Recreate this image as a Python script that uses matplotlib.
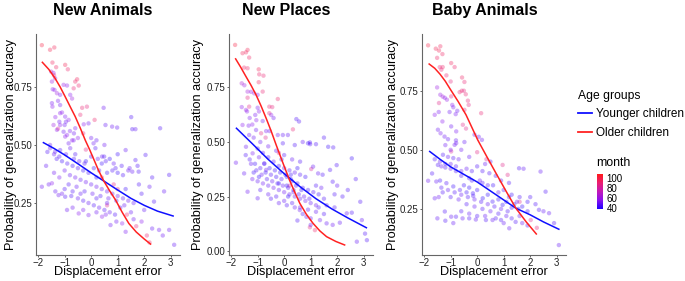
import numpy as np
import matplotlib
matplotlib.use("Agg")
import matplotlib.pyplot as plt
from matplotlib.colors import LinearSegmentedColormap
from matplotlib.lines import Line2D

plt.rcParams["font.family"] = ["Liberation Sans", "DejaVu Sans"]

# ── Data ─────────────────────────────────────────────────────────────────────

titles = ["New Animals", "New Places", "Baby Animals"]

# scatter points: (displacement error, probability, month)
animals_pts = [
    (-1.86, 0.93, 100), (-1.55, 0.91, 98), (-1.39, 0.92, 96), (-1.46, 0.855, 95), (-1.32, 0.835, 94),
    (-0.98, 0.845, 97), (-0.88, 0.826, 92), (-0.53, 0.783, 95), (-0.60, 0.773, 93), (-0.66, 0.744, 90),
    (-0.47, 0.756, 92), (-0.34, 0.66, 91), (-0.16, 0.665, 88), (0.13, 0.608, 92), (-0.41, 0.63, 90),
    (-1.40, 0.80, 90), (-1.25, 0.57, 85), (0.85, 0.33, 88), (1.35, 0.20, 90), (2.20, 0.08, 92),
    (2.10, 0.11, 90), (0.40, 0.36, 85), (-0.20, 0.48, 85), (1.70, 0.15, 88), (0.60, 0.24, 84),
    (1.00, 0.31, 86), (-0.30, 0.55, 86),
    (-1.51, 0.816, 65), (-1.42, 0.81, 60), (-1.36, 0.787, 62), (-1.48, 0.773, 58), (-1.38, 0.737, 55),
    (-1.29, 0.723, 60), (-1.17, 0.716, 52), (-1.04, 0.759, 58), (-0.91, 0.756, 55), (-0.79, 0.716, 55),
    (-0.72, 0.70, 60), (-1.48, 0.68, 52), (-1.46, 0.665, 55), (-1.17, 0.672, 50), (-1.17, 0.637, 55),
    (-0.98, 0.622, 52), (-0.85, 0.608, 55), (-1.42, 0.586, 60), (-1.17, 0.586, 55), (-1.00, 0.586, 50),
    (-1.29, 0.565, 55), (-1.04, 0.557, 50), (-0.91, 0.543, 55), (-0.60, 0.572, 52), (-0.28, 0.589, 55),
    (-0.10, 0.593, 50), (0.47, 0.66, 50), (0.54, 0.586, 48), (0.79, 0.579, 50), (0.98, 0.575, 48),
    (1.51, 0.62, 45), (1.55, 0.568, 45), (1.67, 0.568, 48), (2.60, 0.572, 45), (-0.98, 0.536, 55),
    (-0.66, 0.52, 52), (-0.50, 0.53, 55), (0.00, 0.53, 50), (0.20, 0.52, 48), (0.50, 0.50, 50),
    (-1.55, 0.486, 50), (-1.36, 0.471, 48), (-1.17, 0.478, 45), (-0.85, 0.507, 50), (-0.79, 0.486, 48),
    (-0.72, 0.52, 55), (0.09, 0.507, 50), (0.16, 0.486, 45), (0.41, 0.45, 48), (0.49, 0.45, 45),
    (0.92, 0.40, 45), (1.30, 0.478, 48), (2.05, 0.457, 45), (1.67, 0.435, 45), (1.55, 0.385, 48),
    (1.79, 0.385, 45), (1.40, 0.39, 50), (2.94, 0.371, 45), (2.75, 0.30, 48), (2.37, 0.256, 45),
    (2.94, 0.134, 50), (3.13, 0.07, 48), (2.56, 0.134, 50), (2.70, 0.11, 50), (2.30, 0.14, 48),
    (-1.30, 0.44, 45), (-1.10, 0.43, 42), (-0.90, 0.42, 45), (-0.70, 0.41, 42), (-0.50, 0.40, 45),
    (-0.30, 0.39, 42), (-0.10, 0.38, 45), (0.10, 0.40, 42), (0.30, 0.39, 45), (0.60, 0.38, 42),
    (0.80, 0.39, 45), (1.00, 0.38, 42), (1.20, 0.37, 45), (-1.00, 0.39, 50), (-0.80, 0.37, 48),
    (-0.60, 0.36, 50), (-0.40, 0.35, 48), (-0.20, 0.34, 50), (0.00, 0.33, 48), (0.20, 0.32, 50),
    (0.40, 0.31, 48), (0.60, 0.30, 50), (0.80, 0.29, 48), (1.00, 0.28, 50), (1.20, 0.27, 48),
    (1.40, 0.26, 50), (1.60, 0.25, 48), (-1.48, 0.335, 55), (-1.60, 0.33, 50), (-1.86, 0.32, 50),
    (-1.23, 0.284, 50), (-0.98, 0.277, 45), (-0.75, 0.28, 45), (-0.50, 0.27, 48), (-0.30, 0.26, 45),
    (-0.10, 0.25, 48), (0.10, 0.24, 45), (0.30, 0.23, 48), (0.50, 0.22, 45), (0.70, 0.21, 48),
    (0.90, 0.20, 45), (-0.91, 0.22, 50), (-0.47, 0.205, 55), (-0.10, 0.198, 52), (0.41, 0.191, 55),
    (0.73, 0.155, 50), (1.17, 0.162, 55), (1.30, 0.126, 52), (1.60, 0.18, 50), (1.90, 0.17, 55),
    (-1.00, 0.31, 45), (-0.70, 0.30, 45), (-0.40, 0.29, 48), (0.20, 0.27, 45), (0.60, 0.25, 48),
    (1.10, 0.23, 45), (1.50, 0.21, 48), (1.90, 0.29, 45), (2.20, 0.32, 48), (-0.20, 0.43, 40),
    (0.40, 0.42, 42), (0.70, 0.44, 40), (1.00, 0.46, 42), (-1.20, 0.36, 52), (-1.40, 0.38, 50),
    (-0.60, 0.46, 45), (0.20, 0.36, 40), (1.30, 0.31, 42),
    (-1.45, 0.74, 55), (-1.25, 0.69, 52), (-1.10, 0.64, 55), (-0.95, 0.60, 50), (-0.80, 0.56, 52),
    (-0.65, 0.55, 50), (-1.35, 0.62, 55), (-1.20, 0.60, 50), (-1.55, 0.50, 50), (-1.40, 0.46, 48),
    (-1.20, 0.45, 45), (-0.95, 0.46, 48), (-0.65, 0.44, 45), (-0.45, 0.43, 48), (-0.25, 0.42, 45),
    (0.00, 0.45, 45), (0.25, 0.44, 48), (0.55, 0.43, 45), (0.85, 0.42, 48), (1.15, 0.41, 45),
    (1.45, 0.40, 48), (1.75, 0.41, 45), (-1.35, 0.30, 48), (-1.10, 0.29, 50), (-0.85, 0.33, 45),
    (-0.55, 0.32, 48), (-0.25, 0.30, 45), (0.05, 0.29, 48), (0.35, 0.28, 45), (0.65, 0.27, 48),
    (0.95, 0.26, 45), (1.25, 0.24, 48), (-0.70, 0.23, 50), (-0.30, 0.22, 52), (0.20, 0.21, 50),
    (0.55, 0.20, 52), (0.95, 0.17, 50), (-1.70, 0.41, 48), (-1.65, 0.47, 45), (2.30, 0.36, 45),
    (2.00, 0.22, 48), (1.80, 0.33, 45),
]

places_pts = [
    (-1.85, 0.945, 100), (-1.57, 0.907, 96), (-1.44, 0.911, 95), (-1.38, 0.922, 97), (-1.32, 0.887, 94),
    (-1.51, 0.841, 93), (-1.38, 0.838, 92), (-0.96, 0.833, 96), (-0.94, 0.81, 92), (-0.78, 0.804, 90),
    (-0.96, 0.774, 94), (-0.81, 0.731, 90), (-1.38, 0.703, 88), (-1.32, 0.662, 86), (-0.56, 0.662, 90),
    (-0.45, 0.66, 88), (-0.24, 0.697, 92), (-0.56, 0.632, 88), (0.33, 0.558, 90), (-0.87, 0.54, 86),
    (-0.70, 0.52, 85), (1.02, 0.376, 82), (0.97, 0.109, 88), (1.16, 0.096, 92), (0.20, 0.30, 85),
    (-0.20, 0.45, 84),
    (-1.60, 0.769, 65), (-1.50, 0.76, 60), (-1.38, 0.731, 62), (-1.25, 0.73, 58), (-1.13, 0.723, 60),
    (-1.00, 0.716, 55), (-1.44, 0.647, 58), (-1.40, 0.64, 55), (-1.00, 0.657, 52), (-0.95, 0.64, 55),
    (-1.09, 0.624, 52), (-1.05, 0.60, 55), (-0.81, 0.596, 50), (-0.49, 0.624, 55), (-0.40, 0.61, 50),
    (-1.57, 0.578, 55), (-1.34, 0.575, 52), (-1.20, 0.58, 55), (-1.06, 0.555, 50), (-1.32, 0.532, 50),
    (-0.68, 0.55, 52), (-0.55, 0.55, 50), (-0.24, 0.532, 50), (-0.05, 0.532, 48), (0.14, 0.532, 48),
    (0.46, 0.605, 45), (0.56, 0.594, 45), (1.50, 0.52, 45), (0.97, 0.498, 45), (0.70, 0.50, 48),
    (1.20, 0.49, 45),
    (-1.82, 0.405, 50), (-1.51, 0.356, 48), (-1.38, 0.272, 50), (-1.00, 0.242, 48), (-1.44, 0.478, 50),
    (-1.19, 0.448, 52), (-0.95, 0.43, 50), (-0.75, 0.402, 48), (-0.68, 0.372, 50), (-0.05, 0.494, 45),
    (0.40, 0.486, 45), (0.90, 0.494, 42), (0.98, 0.49, 45), (1.66, 0.478, 42), (1.85, 0.475, 45),
    (2.55, 0.425, 42), (1.98, 0.394, 45), (1.73, 0.372, 45), (1.28, 0.356, 48), (1.45, 0.35, 45),
    (1.09, 0.387, 48), (1.83, 0.318, 45), (2.87, 0.226, 45), (2.36, 0.173, 48), (2.55, 0.176, 45),
    (2.93, 0.142, 48), (3.12, 0.05, 45), (2.74, 0.043, 48), (3.05, 0.08, 45), (1.35, 0.142, 50),
    (1.60, 0.127, 48), (1.83, 0.12, 50), (0.84, 0.157, 48), (0.59, 0.188, 50),
    (-1.30, 0.42, 45), (-1.10, 0.40, 42), (-0.90, 0.38, 45), (-0.70, 0.36, 42), (-0.50, 0.35, 45),
    (-0.30, 0.34, 42), (-0.10, 0.33, 45), (0.10, 0.34, 42), (0.30, 0.32, 45), (0.50, 0.31, 42),
    (0.70, 0.29, 45), (0.90, 0.28, 42), (1.10, 0.27, 45), (1.30, 0.26, 42), (1.50, 0.24, 45),
    (-1.20, 0.33, 50), (-1.00, 0.32, 48), (-0.80, 0.31, 50), (-0.60, 0.30, 48), (-0.40, 0.29, 50),
    (-0.20, 0.28, 48), (0.00, 0.27, 50), (0.20, 0.26, 48), (0.40, 0.25, 50), (0.60, 0.24, 48),
    (0.80, 0.23, 50), (1.00, 0.22, 48), (1.20, 0.21, 50),
    (-0.90, 0.28, 45), (-0.60, 0.26, 48), (-0.30, 0.25, 45), (0.00, 0.23, 48), (0.30, 0.22, 45),
    (0.60, 0.20, 48), (0.90, 0.19, 45), (1.20, 0.18, 48), (1.50, 0.17, 45),
    (-1.00, 0.47, 45), (-0.80, 0.45, 48), (-0.60, 0.43, 45), (-0.40, 0.41, 48), (-0.20, 0.39, 45),
    (0.00, 0.38, 48), (0.20, 0.37, 45), (0.40, 0.36, 48), (0.60, 0.35, 45), (0.80, 0.34, 42),
    (-0.10, 0.42, 40), (0.10, 0.30, 40), (0.25, 0.35, 42), (0.15, 0.25, 40), (0.35, 0.28, 42),
    (-0.20, 0.31, 40), (0.50, 0.38, 40), (2.20, 0.25, 45), (2.00, 0.30, 48), (2.40, 0.28, 45),
    (2.70, 0.33, 45), (1.90, 0.20, 45), (2.10, 0.13, 48), (0.50, 0.14, 45), (1.00, 0.12, 48),
    (-1.45, 0.44, 45), (-1.25, 0.40, 48), (-1.05, 0.37, 45), (-0.85, 0.35, 48), (-0.65, 0.33, 45),
    (-0.45, 0.32, 48), (-0.25, 0.31, 45), (-0.05, 0.30, 48), (0.15, 0.29, 45), (0.35, 0.27, 48),
    (0.55, 0.26, 45), (0.75, 0.25, 48), (0.95, 0.24, 45), (-1.15, 0.36, 42), (-0.95, 0.34, 40),
    (-0.75, 0.40, 42), (-0.55, 0.38, 40), (-0.35, 0.37, 42), (-0.15, 0.36, 40), (0.05, 0.35, 42),
    (0.25, 0.33, 40), (0.45, 0.30, 42), (0.65, 0.28, 40), (-0.50, 0.24, 45), (-0.20, 0.22, 48),
    (0.10, 0.21, 45), (0.40, 0.20, 48), (0.70, 0.17, 45), (1.00, 0.15, 48), (1.30, 0.20, 45),
    (1.60, 0.21, 48), (1.90, 0.26, 45), (-1.60, 0.66, 55), (-1.30, 0.61, 52), (-1.15, 0.52, 50),
    (-0.90, 0.50, 48), (-0.60, 0.48, 50), (-0.30, 0.46, 48), (0.00, 0.44, 45), (0.30, 0.42, 48),
    (0.60, 0.41, 45), (1.20, 0.30, 45), (1.40, 0.29, 48),
]

baby_pts = [
    (-1.85, 0.942, 100), (-1.56, 0.928, 97), (-1.44, 0.92, 96), (-1.39, 0.938, 95), (-1.31, 0.905, 94),
    (-1.51, 0.889, 93), (-0.98, 0.867, 95), (-0.85, 0.85, 92), (-1.41, 0.85, 90), (-1.30, 0.85, 92),
    (-1.35, 0.839, 90), (-1.16, 0.815, 91), (-0.57, 0.806, 93), (-0.48, 0.787, 90), (-1.00, 0.789, 88),
    (-0.66, 0.744, 92), (-0.58, 0.75, 90), (-0.50, 0.75, 88), (-0.43, 0.735, 90), (-0.35, 0.708, 88),
    (-0.32, 0.69, 86), (0.15, 0.655, 90), (-0.48, 0.669, 87), (-0.98, 0.726, 86), (-0.54, 0.606, 85),
    (-0.42, 0.59, 84), (-1.44, 0.698, 85), (-0.98, 0.493, 82), (0.96, 0.436, 85), (1.15, 0.394, 86),
    (2.02, 0.203, 85), (2.25, 0.17, 88), (0.00, 0.49, 86), (0.35, 0.46, 84), (1.60, 0.28, 85),
    (-1.51, 0.764, 60), (-1.39, 0.733, 58), (-1.30, 0.725, 62), (-1.22, 0.72, 55), (-1.14, 0.712, 58),
    (-0.94, 0.69, 55), (-0.90, 0.68, 52), (-1.60, 0.648, 55), (-1.45, 0.66, 52), (-1.31, 0.62, 55),
    (-1.04, 0.66, 50), (-0.81, 0.651, 52), (-0.75, 0.665, 50), (-0.98, 0.599, 50), (-0.79, 0.578, 52),
    (-1.48, 0.585, 50), (-1.38, 0.57, 52), (-1.23, 0.556, 50), (-1.10, 0.545, 48), (-0.79, 0.528, 50),
    (-0.10, 0.564, 50), (0.06, 0.555, 48), (0.18, 0.542, 50), (-0.48, 0.533, 48),
    (-1.85, 0.369, 50), (-1.60, 0.295, 48), (-1.45, 0.30, 50), (-1.54, 0.366, 48), (-1.48, 0.436, 45),
    (-1.35, 0.43, 48), (-1.20, 0.425, 45), (-1.00, 0.42, 48), (-0.80, 0.41, 45), (-1.29, 0.479, 45),
    (-1.10, 0.47, 48), (-0.90, 0.465, 45), (-0.70, 0.46, 48), (-0.85, 0.521, 50), (-0.80, 0.54, 48),
    (-1.16, 0.359, 45), (-0.90, 0.345, 42), (-0.65, 0.33, 45), (-0.40, 0.32, 42), (-0.15, 0.305, 45),
    (-1.22, 0.239, 45), (-0.98, 0.217, 48), (-0.80, 0.217, 45), (-0.55, 0.21, 48), (-0.30, 0.21, 45),
    (-0.05, 0.205, 48), (0.33, 0.203, 45), (0.58, 0.203, 48), (0.90, 0.203, 45), (1.21, 0.168, 48),
    (1.45, 0.195, 45), (1.70, 0.19, 48), (2.33, 0.246, 45), (2.71, 0.232, 48), (2.90, 0.19, 45),
    (3.08, 0.097, 48), (2.58, 0.323, 45), (2.39, 0.408, 48), (1.58, 0.422, 45), (1.75, 0.42, 48),
    (0.46, 0.401, 45), (0.30, 0.44, 48), (0.50, 0.45, 45), (-0.40, 0.42, 48), (-0.20, 0.41, 45),
    (-0.16, 0.316, 42), (0.21, 0.295, 40), (0.58, 0.281, 42), (0.96, 0.267, 40), (1.30, 0.255, 42),
    (1.55, 0.25, 40), (-0.50, 0.35, 42), (-0.30, 0.34, 40), (0.00, 0.33, 42), (0.40, 0.31, 40),
    (0.80, 0.29, 42), (1.10, 0.28, 40), (1.40, 0.27, 42), (1.70, 0.26, 40), (1.90, 0.24, 42),
    (-1.30, 0.32, 45), (-1.00, 0.30, 45), (-0.70, 0.29, 48), (-0.40, 0.27, 45), (-0.10, 0.26, 48),
    (0.20, 0.25, 45), (0.50, 0.24, 48), (0.80, 0.23, 45), (1.10, 0.22, 48), (-0.60, 0.39, 45),
    (-0.20, 0.37, 42), (0.20, 0.36, 45), (0.60, 0.35, 42), (1.00, 0.33, 45), (1.30, 0.31, 42),
    (1.60, 0.30, 45), (1.90, 0.28, 42), (2.20, 0.27, 45), (0.00, 0.43, 45), (0.70, 0.39, 45),
    (1.20, 0.36, 45), (-1.40, 0.37, 42), (-1.70, 0.40, 45),
    (-1.60, 0.46, 45), (-1.40, 0.45, 48), (-1.20, 0.44, 45), (-1.00, 0.44, 48), (-0.80, 0.43, 45),
    (-0.60, 0.41, 48), (-1.35, 0.34, 45), (-1.10, 0.33, 48), (-0.85, 0.32, 45), (-0.60, 0.31, 48),
    (-0.35, 0.30, 45), (-0.10, 0.29, 48), (0.15, 0.28, 45), (0.40, 0.27, 48), (0.65, 0.26, 45),
    (0.90, 0.25, 48), (1.15, 0.24, 45), (-1.50, 0.21, 48), (-1.20, 0.20, 45), (-0.90, 0.19, 48),
    (-0.60, 0.24, 45), (-0.30, 0.23, 48), (0.00, 0.22, 45), (0.30, 0.22, 48), (0.70, 0.21, 45),
    (1.00, 0.19, 48), (1.30, 0.21, 45), (1.60, 0.22, 48), (-0.30, 0.38, 45), (0.10, 0.37, 48),
    (0.40, 0.35, 45), (0.80, 0.32, 48), (1.20, 0.30, 45), (1.50, 0.28, 48), (-1.20, 0.52, 50),
    (-1.00, 0.50, 52), (-0.60, 0.50, 50), (-0.30, 0.47, 48), (0.20, 0.41, 45), (0.90, 0.37, 45),
    (2.00, 0.30, 45), (2.50, 0.24, 48), (1.90, 0.18, 45),
]

# fitted curves (younger / older)
young_x = [
    [-1.80, -1.40, -1.00, -0.50, 0.00, 0.50, 1.00, 1.50, 2.00, 2.50, 3.09],
    [-1.80, -1.20, -0.60, 0.00, 0.60, 1.20, 1.80, 2.40, 3.10],
    [-1.79, -1.40, -1.00, -0.50, 0.00, 0.50, 1.00, 1.46, 2.00, 2.50, 3.08],
]
young_y = [
    [0.510, 0.485, 0.457, 0.419, 0.380, 0.343, 0.306, 0.270, 0.240, 0.215, 0.194],
    [0.563, 0.492, 0.420, 0.355, 0.295, 0.240, 0.193, 0.152, 0.107],
    [0.493, 0.460, 0.428, 0.396, 0.364, 0.326, 0.288, 0.253, 0.225, 0.195, 0.164],
]
old_x = [
    [-1.84, -1.60, -1.36, -1.17, -0.98, -0.80, -0.60, -0.40, -0.22, -0.05, 0.10, 0.28, 0.47,
     0.70, 0.92, 1.17, 1.42, 1.70, 2.00, 2.24],
    [-1.83, -1.64, -1.44, -1.25, -1.06, -0.87, -0.68, -0.49, -0.30, -0.05, 0.20, 0.40, 0.59,
     0.84, 1.09, 1.35, 1.60, 1.95, 2.28],
    [-1.81, -1.60, -1.40, -1.20, -1.04, -0.72, -0.42, -0.20, 0.02, 0.36, 0.71, 1.10, 1.46,
     1.85, 2.23],
]
old_y = [
    [0.856, 0.826, 0.787, 0.750, 0.708, 0.667, 0.622, 0.570, 0.520, 0.478, 0.438, 0.390, 0.346,
     0.302, 0.263, 0.210, 0.162, 0.125, 0.095, 0.073],
    [0.881, 0.843, 0.800, 0.760, 0.716, 0.665, 0.609, 0.550, 0.486, 0.405, 0.326, 0.270, 0.219,
     0.168, 0.127, 0.092, 0.066, 0.044, 0.028],
    [0.863, 0.845, 0.820, 0.790, 0.761, 0.705, 0.648, 0.595, 0.542, 0.472, 0.401, 0.323, 0.253,
     0.195, 0.144],
]

y_ticks = [
    [0.25, 0.50, 0.75],
    [0.00, 0.25, 0.50, 0.75],
    [0.25, 0.50, 0.75],
]
y_lims = [(0.026, 0.978), (-0.018, 0.995), (0.055, 0.99)]
x_ticks = [-2, -1, 0, 1, 2, 3]
month_ticks = [40, 60, 80, 100]

# ── Figure ───────────────────────────────────────────────────────────────────

W, H = 685, 281
fig = plt.figure(figsize=(W / 100, H / 100), dpi=100)

month_cmap = LinearSegmentedColormap.from_list(
    "month", ["#1E00FF", "#8A10F0", "#C21AB8", "#EB1E70", "#FF1A1A"])
norm = plt.Normalize(38, 108)

axes_left = [36, 229, 422]
ylabel_edge = [17, 204, 399]     # right (descender) edge of the rotated y label
title_cx = [103, 286, 485]
AX_W, AX_TOP, AX_BOT = 144, 34, 255
ax_h = AX_BOT - AX_TOP

panels = [animals_pts, places_pts, baby_pts]
for i, pts in enumerate(panels):
    ax = fig.add_axes([axes_left[i] / W, 1 - AX_BOT / H, AX_W / W, ax_h / H])
    px, py, pm = np.array(pts).T
    ax.scatter(px, py, c=pm, cmap=month_cmap, norm=norm, s=10, alpha=0.33,
               linewidths=0, zorder=1)
    ax.plot(young_x[i], young_y[i], color="#1010FF", lw=1.1, zorder=3)
    ax.plot(old_x[i], old_y[i], color="#FF2222", lw=1.1, zorder=3)

    ax.set_xlim(-2.08, 3.35)
    ax.set_ylim(*y_lims[i])
    ax.set_xticks(x_ticks)
    ax.set_yticks(y_ticks[i])
    ax.set_yticklabels([f"{t:.2f}" for t in y_ticks[i]])
    for s in ("top", "right"):
        ax.spines[s].set_visible(False)
    for s in ("left", "bottom"):
        ax.spines[s].set_color("#666666")
        ax.spines[s].set_linewidth(0.8)
    ax.tick_params(length=1.5, width=0.7, color="#666666", labelsize=7,
                   labelcolor="#222222", pad=1)
    ax.set_xlabel("Displacement error", fontsize=9.2)
    ax.xaxis.set_label_coords(0.5, -(266 - AX_BOT) / ax_h)
    ax.set_ylabel("Probability of generalization accuracy", fontsize=9.2)
    ax.yaxis.set_label_coords((ylabel_edge[i] - axes_left[i]) / AX_W, 0.5)
    fig.text(title_cx[i] / W, 1 - 3 / H, titles[i], ha="center", va="top",
             fontsize=11.5, fontweight="bold")

# ── Legends ──────────────────────────────────────────────────────────────────

handles = [Line2D([], [], color="#1010FF", lw=1.3), Line2D([], [], color="#FF2222", lw=1.3)]
fig.legend(handles, ["Younger children", "Older children"], title="Age groups",
           loc="upper left", bbox_to_anchor=(578 / W, 1 - 90 / H), frameon=False,
           fontsize=8.5, title_fontsize=8.7, alignment="left", handlelength=1.2,
           handletextpad=0.35, labelspacing=0.55, borderpad=0, borderaxespad=0)

fig.text(596 / W, 1 - 163 / H, "month", fontsize=8.8, va="center", ha="left")
cax = fig.add_axes([597 / W, 1 - 209 / H, 6 / W, 35 / H])
cb = fig.colorbar(plt.cm.ScalarMappable(norm=norm, cmap=month_cmap), cax=cax, ticks=month_ticks)
cb.outline.set_visible(False)
cax.tick_params(length=0, labelsize=7, pad=2.5)

fig.savefig("out.png", dpi=100)
